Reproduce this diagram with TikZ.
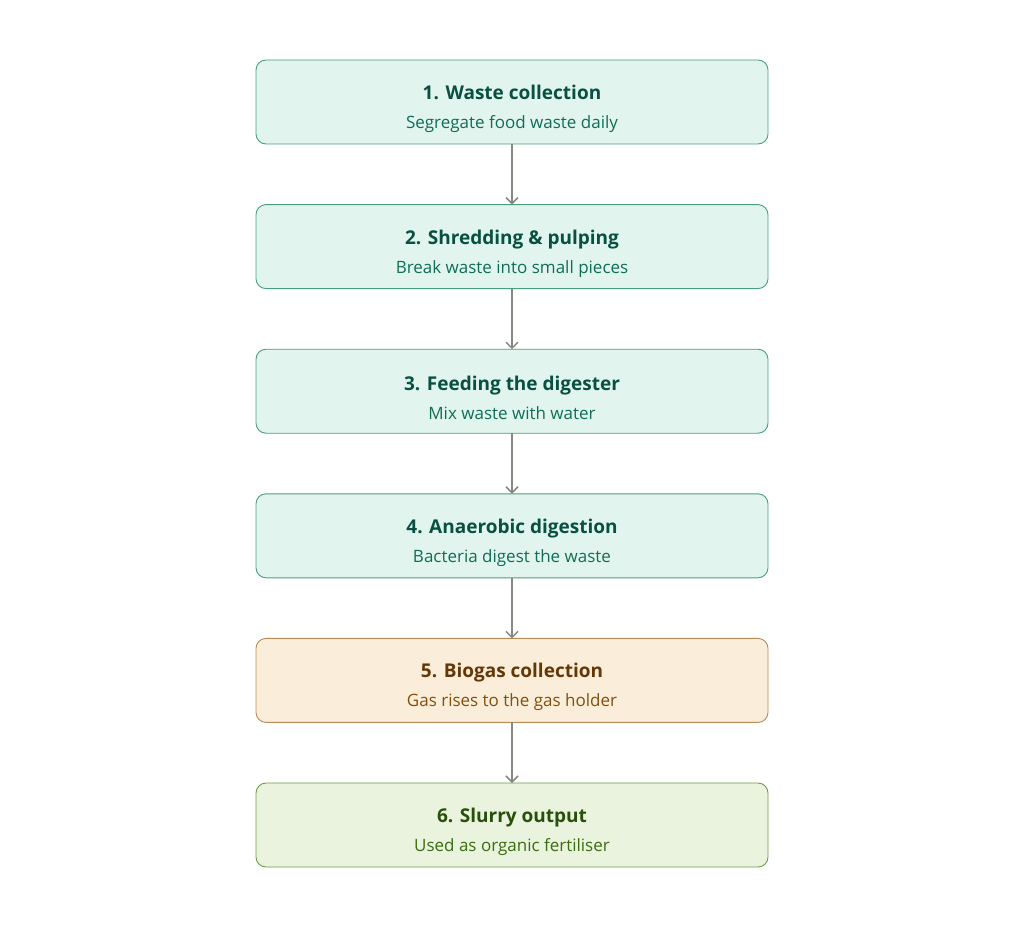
\documentclass[tikz,border=0pt]{standalone}
\usepackage{fontspec}
\setmainfont{Open Sans}
\usepackage{tikz}
\usetikzlibrary{arrows.meta,positioning}
\definecolor{tealfill}{HTML}{E1F5EE}
\definecolor{tealline}{HTML}{4A9E80}
\definecolor{tealhead}{HTML}{085041}
\definecolor{tealsub}{HTML}{0F6E56}
\definecolor{amberfill}{HTML}{FAEEDA}
\definecolor{amberline}{HTML}{B98A52}
\definecolor{amberhead}{HTML}{633806}
\definecolor{ambersub}{HTML}{854F0B}
\definecolor{greenfill}{HTML}{EAF3DE}
\definecolor{greenline}{HTML}{6E9A4C}
\definecolor{greenhead}{HTML}{27500A}
\definecolor{greensub}{HTML}{3B6D11}
\definecolor{flowgray}{HTML}{888780}
\newcommand{\headf}{\fontsize{19}{29}\selectfont\bfseries}
\newcommand{\subf}{\fontsize{17}{29}\selectfont\mdseries}
\newcommand{\topstrut}{\rule{0pt}{28pt}}
\tikzset{
stagebox/.style = {rectangle, rounded corners=10pt, line width=0.9pt, align=center,
  minimum width=512pt, minimum height=84pt, inner sep=0pt, outer sep=0pt, font=\headf},% common box
stage_t/.style = {stagebox, draw=tealline, fill=tealfill},% teal stage
stage_a/.style = {stagebox, draw=amberline, fill=amberfill},% amber stage
stage_g/.style = {stagebox, draw=greenline, fill=greenfill},% green stage
flow/.style = {draw=flowgray, line width=1.5pt, -{Straight Barb[length=6pt,width=12pt,line width=1.5pt]}}
}

\begin{document}
\begin{tikzpicture}[node distance=60.6pt]
	\useasboundingbox (0,0) rectangle (1024pt,-928pt);
	\node [stage_t] (waste) at (512pt,-102pt)
	  {\topstrut\textcolor{tealhead}{1. Waste collection}\\\subf\textcolor{tealsub}{Segregate food waste daily}};
	\node [stage_t, below=of waste] (shred)
	  {\topstrut\textcolor{tealhead}{2. Shredding \& pulping}\\\subf\textcolor{tealsub}{Break waste into small pieces}};
	\node [stage_t, below=of shred] (feed)
	  {\topstrut\textcolor{tealhead}{3. Feeding the digester}\\\subf\textcolor{tealsub}{Mix waste with water}};
	\node [stage_t, below=of feed] (digest)
	  {\topstrut\textcolor{tealhead}{4. Anaerobic digestion}\\\subf\textcolor{tealsub}{Bacteria digest the waste}};
	\node [stage_a, below=of digest] (biogas)
	  {\topstrut\textcolor{amberhead}{5. Biogas collection}\\\subf\textcolor{ambersub}{Gas rises to the gas holder}};
	\node [stage_g, below=of biogas] (slurry)
	  {\topstrut\textcolor{greenhead}{6. Slurry output}\\\subf\textcolor{greensub}{Used as organic fertiliser}};
	\draw [flow] (waste) -- (shred);
	\draw [flow] (shred) -- (feed);
	\draw [flow] (feed) -- (digest);
	\draw [flow] (digest) -- (biogas);
	\draw [flow] (biogas) -- (slurry);
\end{tikzpicture}
\end{document}
